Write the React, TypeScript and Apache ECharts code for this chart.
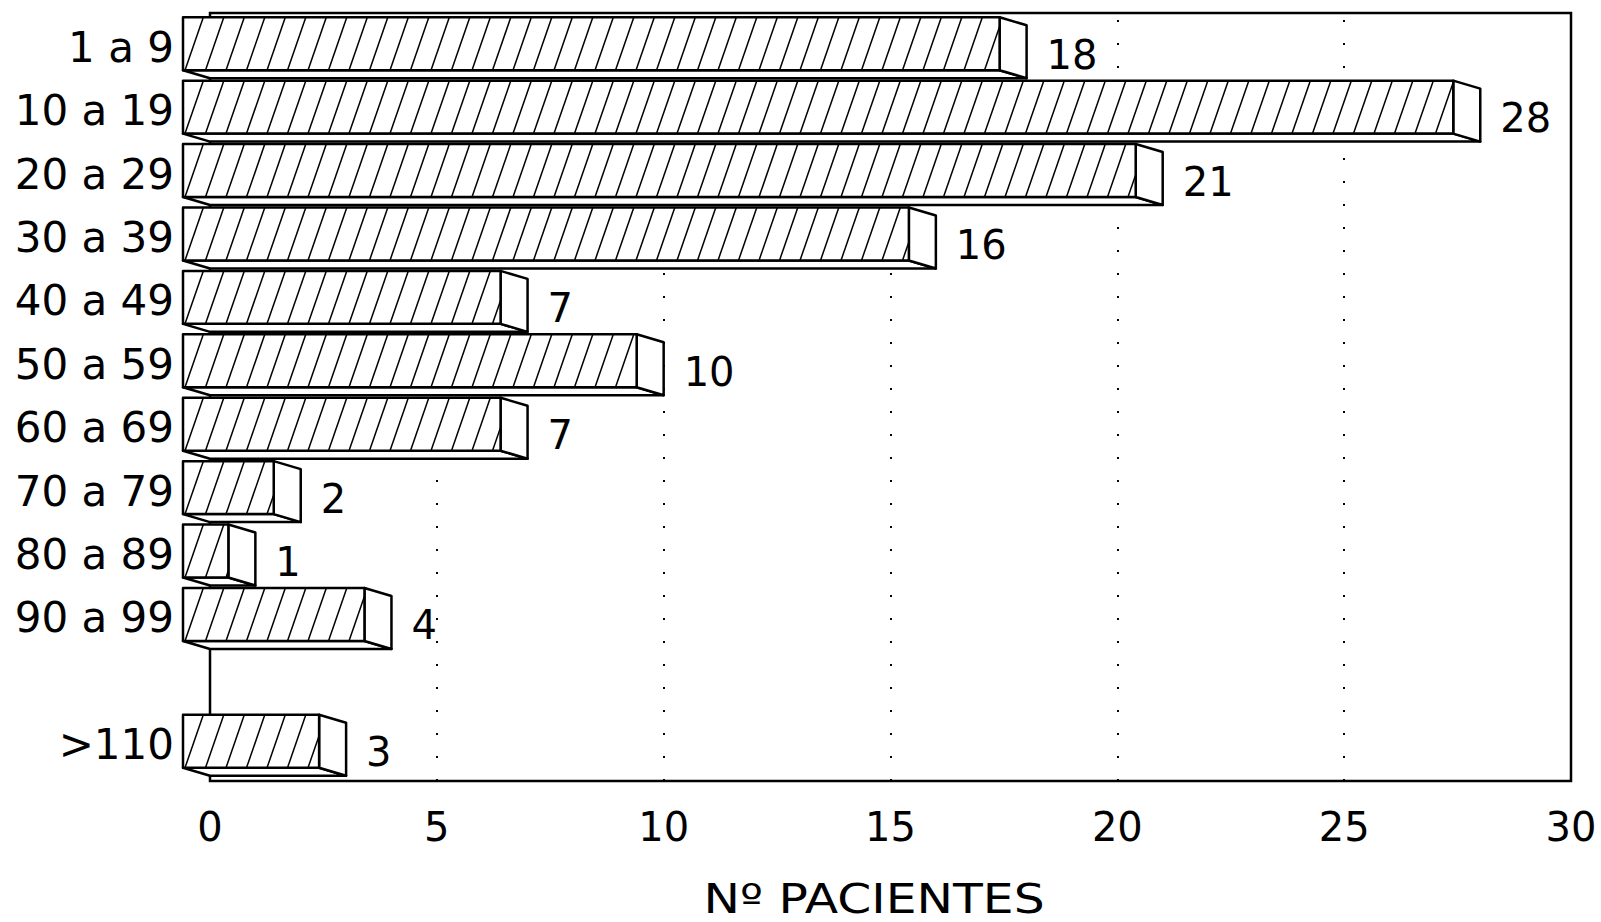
import React, { useEffect, useRef } from 'react';
import * as echarts from 'echarts';

// Age groups (years) and number of patients in each
const categories = ['1 a 9', '10 a 19', '20 a 29', '30 a 39', '40 a 49', '50 a 59', '60 a 69', '70 a 79', '80 a 89', '90 a 99', '', '>110'];
const patients: (number | null)[] = [18, 28, 21, 16, 7, 10, 7, 2, 1, 4, null, 3];
const xMin = 0;
const xMax = 30;
const xInterval = 5;
const axisTitle = 'Nº PACIENTES';

const FONT = 'DejaVu Sans';
const DEPTH_X = 27; // horizontal depth of the 3D box
const DEPTH_Y = 8; // vertical depth of the 3D box
const FACE = 0.835; // bar thickness as share of the band
const HATCH_GAP = 20.5;

function renderBar(params: any, api: any) {
  const v = api.value(0) as number;
  const ci = api.value(1) as number;
  const end = api.coord([v, ci]);
  const start = api.coord([0, ci]);
  const band = (api.size([0, 1]) as number[])[1];
  const h = band * FACE;
  const bx0 = start[0];
  const bx1 = end[0];
  const by0 = end[1] - h / 2;
  const by1 = end[1] + h / 2;
  const fx0 = bx0 - DEPTH_X;
  const fx1 = bx1 - DEPTH_X;
  const fy0 = by0 - DEPTH_Y;
  const fy1 = by1 - DEPTH_Y;
  const edge = { stroke: '#000', lineWidth: 2.5, lineJoin: 'round' };
  const children: any[] = [];
  // underside
  children.push({
    type: 'polygon',
    shape: { points: [[fx0, fy1], [fx1, fy1], [bx1, by1], [bx0, by1]] },
    style: { fill: '#fff', ...edge },
  });
  // end face
  children.push({
    type: 'polygon',
    shape: { points: [[fx1, fy0], [bx1, by0], [bx1, by1], [fx1, fy1]] },
    style: { fill: '#fff', ...edge },
  });
  // front face
  children.push({
    type: 'rect',
    shape: { x: fx0, y: fy0, width: fx1 - fx0, height: fy1 - fy0 },
    style: { fill: '#fff' },
  });
  // diagonal hatching clipped to the front face
  const slant = (fy1 - fy0) * 0.346;
  let b = fx0 + 2 - Math.ceil(slant / HATCH_GAP) * HATCH_GAP;
  for (; b < fx1; b += HATCH_GAP) {
    const t0 = Math.max(0, (fx0 - b) / slant);
    const t1 = Math.min(1, (fx1 - b) / slant);
    if (t1 <= t0) continue;
    children.push({
      type: 'line',
      shape: {
        x1: b + slant * t0,
        y1: fy1 - (fy1 - fy0) * t0,
        x2: b + slant * t1,
        y2: fy1 - (fy1 - fy0) * t1,
      },
      style: { stroke: '#000', lineWidth: 1.5 },
    });
  }
  children.push({
    type: 'rect',
    shape: { x: fx0, y: fy0, width: fx1 - fx0, height: fy1 - fy0 },
    style: { fill: 'none', ...edge },
  });
  // value label
  children.push({
    type: 'text',
    style: {
      text: String(v),
      x: bx1 + 20,
      y: end[1] + 3,
      align: 'left',
      verticalAlign: 'middle',
      fill: '#000',
      fontSize: 40,
      fontFamily: FONT,
    },
  });
  return { type: 'group', children };
}

export default function App() {
  const ref = useRef<HTMLDivElement>(null);

  useEffect(() => {
    if (!ref.current) return;
    const chart = echarts.init(ref.current, undefined, { renderer: 'svg' });
    const data = patients.flatMap((v, i) => (v == null ? [] : [[v, i]]));
    chart.setOption({
      animation: false,
      backgroundColor: '#fff',
      grid: [
        { left: 210, top: 20, width: 1361, height: 761, show: false },
        {
          left: 210,
          top: 13,
          width: 1361,
          height: 768,
          show: true,
          borderColor: '#000',
          borderWidth: 2.5,
          backgroundColor: 'transparent',
        },
      ],
      xAxis: [
        {
          type: 'value',
          gridIndex: 0,
          min: xMin,
          max: xMax,
          interval: xInterval,
          axisLine: { show: false },
          axisTick: { show: false },
          axisLabel: { fontSize: 40, fontFamily: FONT, color: '#000', margin: 26 },
          splitLine: { show: true, lineStyle: { color: '#000', width: 2, type: [2, 21] } },
        },
        { type: 'value', gridIndex: 1, show: false, min: 0, max: 1, splitLine: { show: false } },
      ],
      yAxis: [
        {
          type: 'category',
          gridIndex: 0,
          inverse: true,
          data: categories,
          axisLine: { show: false },
          axisTick: { show: false },
          splitLine: { show: false },
          axisLabel: {
            margin: 36,
            formatter: (value: string) => (value ? `{c|${value}}` : ''),
            rich: {
              c: {
                fontSize: 42,
                fontFamily: FONT,
                color: '#000',
                padding: [0, 0, 9, 0],
              },
            },
          },
        },
        { type: 'value', gridIndex: 1, show: false, min: 0, max: 1, splitLine: { show: false } },
      ],
      graphic: [
        {
          type: 'text',
          x: 874,
          y: 900,
          scaleX: 1.22,
          style: {
            text: axisTitle,
            align: 'center',
            verticalAlign: 'middle',
            fontSize: 40,
            lineHeight: 38,
            fontFamily: FONT,
            fill: '#000',
          },
        },
      ],
      series: [
        {
          type: 'custom',
          xAxisIndex: 0,
          yAxisIndex: 0,
          clip: false,
          encode: { x: 0, y: 1 },
          data,
          renderItem: renderBar,
          z: 5,
        },
      ],
    });
    return () => chart.dispose();
  }, []);

  return (
    <div
      ref={ref}
      style={{ position: 'fixed', left: 0, top: 0, width: 1601, height: 922, background: '#fff' }}
    />
  );
}
